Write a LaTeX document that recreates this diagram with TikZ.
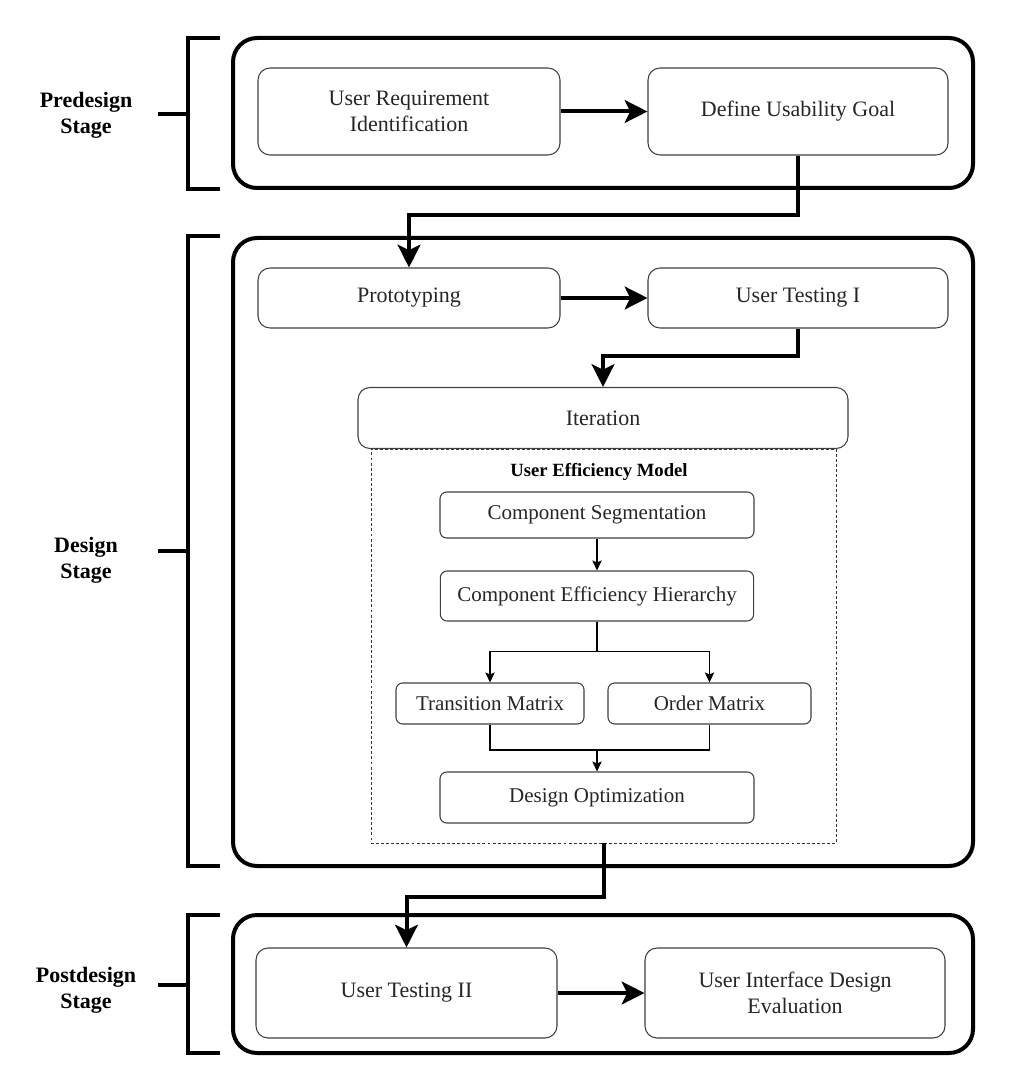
\documentclass[tikz,border=0pt]{standalone}
\usepackage{fontspec}
\setmainfont{Liberation Serif}
\usetikzlibrary{arrows.meta,positioning}

\begin{document}
\begin{tikzpicture}[x=0.75pt,y=-0.75pt,
  stagebox/.style={draw,line width=3pt,rounded corners=18pt,inner sep=0pt},
  bigbox/.style={draw=black!75,line width=0.8pt,rounded corners=9pt,fill=white,text=black!85,align=center,inner sep=0pt,font=\fontsize{16.5}{19.5}\selectfont},
  smallbox/.style={draw=black!75,line width=0.8pt,rounded corners=5pt,fill=white,text=black!85,inner sep=0pt,font=\fontsize{15.75}{19}\selectfont},
  modelbox/.style={draw=black!80,line width=0.6pt,dash pattern=on 2.2pt off 1.6pt,inner sep=0pt},
  bigarrow/.style={line width=3pt,-{Stealth[length=17pt,width=17pt,inset=4pt]}},
  thinarrow/.style={line width=0.8pt,-{Stealth[length=7.5pt,width=7pt,inset=1.5pt]}},
  bracketline/.style={line width=3pt},
  stagelabel/.style={font=\bfseries\fontsize{16.5}{19.5}\selectfont,align=center}]
\useasboundingbox (0,0) rectangle (1013,1091);

\node[stagebox,minimum width=555pt,minimum height=112.5pt] (pre) at (603,113) {};
\node[stagebox,minimum width=555pt,minimum height=471pt] (des) at (603,552) {};
\node[stagebox,minimum width=555pt,minimum height=103.5pt] (post) at (603,984) {};

\draw[bracketline] (220,38) -| (188,189) -- (220,189);
\draw[bracketline] (220,236) -| (188,866) -- (220,866);
\draw[bracketline] (220,915) -| (188,1053) -- (220,1053);
\coordinate (prestub) at (158,114);
\coordinate (desstub) at (158,551);
\coordinate (poststub) at (158,985);
\draw[bracketline] (prestub) -- ++(30,0);
\draw[bracketline] (desstub) -- ++(30,0);
\draw[bracketline] (poststub) -- ++(30,0);
\node[stagelabel] (prelabel) at (86,115) {Predesign\\Stage};
\node[stagelabel] (deslabel) at (86,560) {Design\\Stage};
\node[stagelabel] (postlabel) at (86,990) {Postdesign\\Stage};

\node[bigbox,minimum width=226.5pt,minimum height=65.25pt] (uri) at (409,111.5) {User Requirement\\Identification};
\node[bigbox,minimum width=225pt,minimum height=65.25pt] (dug) at (798,111.5) {Define Usability Goal};

\node[bigbox,minimum width=226.5pt,minimum height=45pt] (proto) at (409,298) {Prototyping};
\node[bigbox,minimum width=225pt,minimum height=45pt] (ut1) at (798,298) {User Testing I};

\node[modelbox,minimum width=348.75pt,minimum height=295.5pt] (uem) at (603.5,646) {};
\node[bigbox,minimum width=367.5pt,minimum height=45.75pt] (iter) at (603,418) {Iteration};
\node[font=\bfseries\fontsize{14}{16}\selectfont] (uemlabel) at (599,472) {User Efficiency Model};

\node[smallbox,minimum width=235.5pt,minimum height=34.5pt] (cs) at (597,515) {Component Segmentation};
\node[smallbox,minimum width=235pt,minimum height=37.5pt] (ceh) at (597,596) {Component Efficiency Hierarchy};
\node[smallbox,minimum width=141pt,minimum height=30.75pt] (tm) at (490,703.5) {Transition Matrix};
\node[smallbox,minimum width=152.25pt,minimum height=30.75pt] (om) at (709.5,703.5) {Order Matrix};
\node[smallbox,minimum width=235.5pt,minimum height=38.25pt] (dopt) at (597,797.5) {Design Optimization};

\node[bigbox,minimum width=225.75pt,minimum height=67.5pt] (ut2) at (406.5,993) {User Testing II};
\node[bigbox,minimum width=225pt,minimum height=67.5pt] (uide) at (795,993) {User Interface Design\\Evaluation};

\draw[bigarrow] (uri) -- (dug);
\draw[bigarrow] (dug.south) -- ++(0,59) -| (proto.north);
\draw[bigarrow] (proto) -- (ut1);
\draw[bigarrow] (ut1.south) -- ++(0,27) -| (iter.north);
\draw[thinarrow] (cs) -- (ceh);
\draw[thinarrow] (ceh.south) -- ++(0,30) -| (tm.north);
\draw[thinarrow] (ceh.south) -- ++(0,30) -| (om.north);
\coordinate (merge) at (597,750);
\draw[line width=0.8pt] (tm.south) |- (merge) -| (om.south);
\draw[thinarrow] (merge) -- (dopt.north);
\draw[bigarrow] (uem.south) -- ++(0,54) -| (ut2.north);
\draw[bigarrow] (ut2) -- (uide);
\end{tikzpicture}
\end{document}
